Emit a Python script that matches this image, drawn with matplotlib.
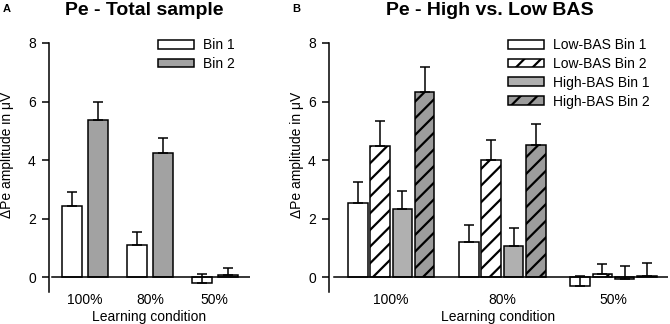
import numpy as np
import matplotlib
matplotlib.use("Agg")
import matplotlib.pyplot as plt
from matplotlib.patches import Patch

plt.rcParams['font.family'] = ['Liberation Sans', 'DejaVu Sans']
plt.rcParams['hatch.linewidth'] = 1.6

CONDITIONS = ["100%", "80%", "50%"]

# Panel A - total sample
A_BIN1 = [2.42, 1.12, -0.20]
A_BIN1_ERR = [0.48, 0.42, 0.30]
A_BIN2 = [5.37, 4.25, 0.07]
A_BIN2_ERR = [0.63, 0.51, 0.26]

# Panel B - high vs. low BAS
B_LOW1 = [2.53, 1.20, -0.28]
B_LOW1_ERR = [0.72, 0.58, 0.33]
B_LOW2 = [4.48, 4.02, 0.10]
B_LOW2_ERR = [0.85, 0.68, 0.34]
B_HIGH1 = [2.35, 1.06, -0.04]
B_HIGH1_ERR = [0.60, 0.61, 0.42]
B_HIGH2 = [6.33, 4.53, 0.05]
B_HIGH2_ERR = [0.85, 0.70, 0.43]

A_LABELS = ["Bin 1", "Bin 2"]
B_LABELS = ["Low-BAS Bin 1", "Low-BAS Bin 2", "High-BAS Bin 1", "High-BAS Bin 2"]

# (facecolor, hatch)
A_STYLES = [("white", None), ("#a2a2a2", None)]
B_STYLES = [("white", None), ("white", "//"), ("#b0b0b0", None), ("#9c9c9c", "//")]


def draw_panel(ax, series, errs, styles, offsets, width, xlim):
    x = np.arange(len(CONDITIONS))
    for vals, err, (fc, hatch), off in zip(series, errs, styles, offsets):
        ax.bar(x + off, vals, width, color=fc, edgecolor="black", linewidth=1.1,
               hatch=hatch, zorder=2)
        ax.errorbar(x + off, vals, yerr=[np.zeros(len(err)), err], fmt="none",
                    ecolor="black", elinewidth=1.1, capsize=3.5, capthick=1.1, zorder=3)
    ax.axhline(0, xmin=0.015, color="black", linewidth=1.1, zorder=4)
    ax.set_xlim(*xlim)
    ax.set_ylim(-0.5, 8)
    ax.set_yticks([0, 2, 4, 6, 8])
    ax.set_xticks(x)
    ax.set_xticklabels(CONDITIONS, fontsize=10)
    ax.tick_params(axis="x", length=0, pad=1)
    ax.tick_params(axis="y", direction="out", length=5, width=1.1, labelsize=10, pad=4.5)
    for s in ["top", "right", "bottom"]:
        ax.spines[s].set_visible(False)
    ax.spines["left"].set_linewidth(1.1)
    ax.set_xlabel("Learning condition", fontsize=10, labelpad=2)
    ax.set_ylabel("ΔPe amplitude in μV", fontsize=10)


fig = plt.figure(figsize=(6.7, 3.24), dpi=100)
ax1 = fig.add_axes([49 / 670, 32 / 324, 201 / 670, 249 / 324])
ax2 = fig.add_axes([329 / 670, 32 / 324, 339 / 670, 249 / 324])

draw_panel(ax1, [A_BIN1, A_BIN2], [A_BIN1_ERR, A_BIN2_ERR], A_STYLES,
           [-0.2, 0.2], 0.31, (-0.55, 2.54))
draw_panel(ax2, [B_LOW1, B_LOW2, B_HIGH1, B_HIGH2],
           [B_LOW1_ERR, B_LOW2_ERR, B_HIGH1_ERR, B_HIGH2_ERR], B_STYLES,
           [-0.3, -0.1, 0.1, 0.3], 0.176, (-0.56, 2.49))
ax1.yaxis.set_label_coords(-0.175, 0.55)
ax2.yaxis.set_label_coords(-0.075, 0.55)

h1 = [Patch(facecolor=fc, edgecolor="black", hatch=h, linewidth=1.1) for fc, h in A_STYLES]
ax1.legend(h1, A_LABELS, loc="upper left", bbox_to_anchor=(158 / 670, 1 - 38 / 324),
           bbox_transform=fig.transFigure, frameon=False, fontsize=10,
           handlelength=2.6, handleheight=0.6, handletextpad=0.65,
           labelspacing=0.35, borderpad=0, borderaxespad=0)
h2 = [Patch(facecolor=fc, edgecolor="black", hatch=h, linewidth=1.1) for fc, h in B_STYLES]
ax2.legend(h2, B_LABELS, loc="upper left", bbox_to_anchor=(508 / 670, 1 - 38 / 324),
           bbox_transform=fig.transFigure, frameon=False, fontsize=10,
           handlelength=2.6, handleheight=0.6, handletextpad=0.65,
           labelspacing=0.35, borderpad=0, borderaxespad=0)

fig.text(144 / 670, 1 - 15 / 324, "Pe - Total sample", ha="center", va="baseline",
         fontsize=14, fontweight="bold")
fig.text(490 / 670, 1 - 15 / 324, "Pe - High vs. Low BAS", ha="center", va="baseline",
         fontsize=14, fontweight="bold")
fig.text(3 / 670, 1 - 12 / 324, "A", ha="left", va="baseline", fontsize=8, fontweight="bold")
fig.text(292 / 670, 1 - 12 / 324, "B", ha="left", va="baseline", fontsize=8, fontweight="bold")

fig.savefig("out.png", dpi=100)
